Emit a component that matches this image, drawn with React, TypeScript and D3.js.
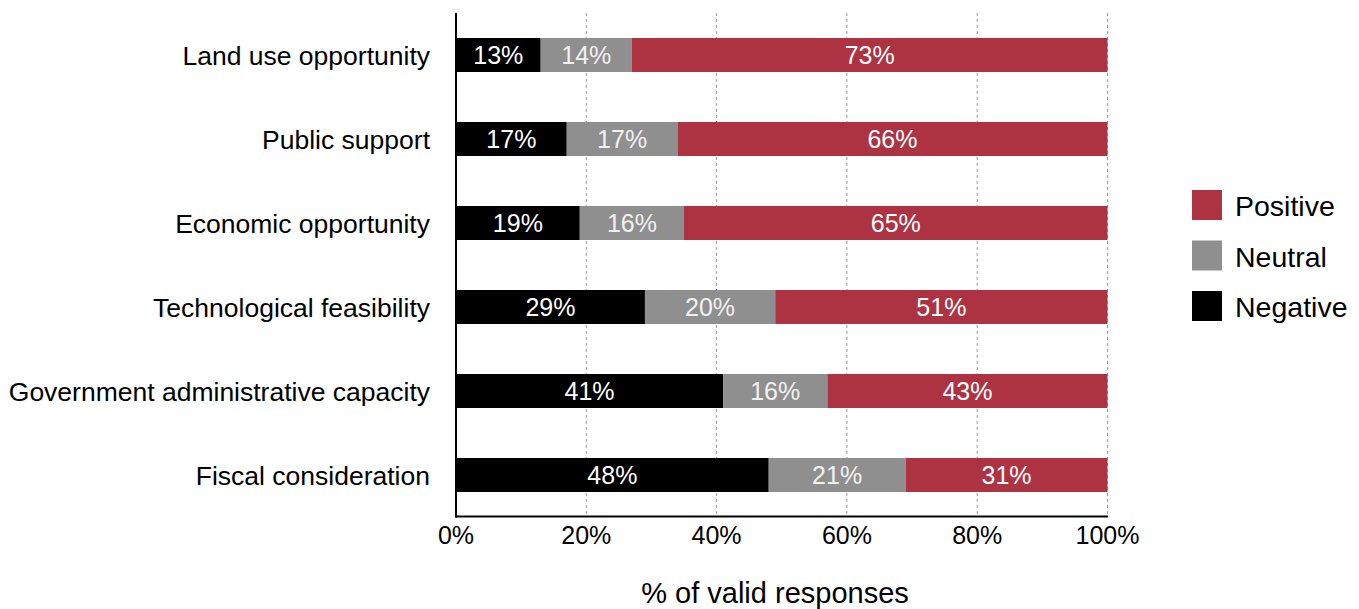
import React from "react";
import * as d3 from "d3";

// Share of valid responses per factor (percent)
const categories = [
  "Land use opportunity",
  "Public support",
  "Economic opportunity",
  "Technological feasibility",
  "Government administrative capacity",
  "Fiscal consideration",
];
const negative = [13, 17, 19, 29, 41, 48];
const neutral = [14, 17, 16, 20, 16, 21];
const positive = [73, 66, 65, 51, 43, 31];

const seriesKeys = ["negative", "neutral", "positive"] as const;
const seriesColors: Record<string, string> = {
  negative: "#000000",
  neutral: "#8f8f8f",
  positive: "#ad3343",
};
const legendItems = [
  { key: "positive", label: "Positive" },
  { key: "neutral", label: "Neutral" },
  { key: "negative", label: "Negative" },
];
const xTicks = [0, 20, 40, 60, 80, 100];

const W = 1359;
const H = 609;
const FONT = "Liberation Sans, Arial, Helvetica, sans-serif";

export default function App() {
  const rows = categories.map((c, i) => ({
    category: c,
    negative: negative[i],
    neutral: neutral[i],
    positive: positive[i],
  }));

  const x = d3.scaleLinear().domain([0, 100]).range([456, 1107.5]);
  const y = d3
    .scaleBand<string>()
    .domain(categories)
    .range([13, 517])
    .paddingInner(50 / 84)
    .paddingOuter(25 / 84);

  const stack = d3.stack<any>().keys(seriesKeys as unknown as string[]);
  const layers = stack(rows);
  const bw = y.bandwidth();
  const plotTop = 13;
  const plotBottom = 516.5;

  return (
    <svg
      width={W}
      height={H}
      viewBox={`0 0 ${W} ${H}`}
      style={{ position: "absolute", left: 0, top: 0, background: "#fff" }}
      fontFamily={FONT}
    >
      {/* vertical grid lines */}
      {xTicks
        .filter((t) => t > 0)
        .map((t) => (
          <line
            key={`g${t}`}
            x1={x(t)}
            x2={x(t)}
            y1={plotTop}
            y2={plotBottom}
            stroke="#9a9a9a"
            strokeWidth={1}
            strokeDasharray="3,3"
          />
        ))}

      {/* stacked bars */}
      {layers.map((layer) => (
        <g key={layer.key} fill={seriesColors[layer.key]}>
          {layer.map((d, i) => (
            <rect
              key={i}
              x={x(d[0])}
              y={y(categories[i])!}
              width={x(d[1]) - x(d[0])}
              height={bw}
            />
          ))}
        </g>
      ))}

      {/* segment value labels */}
      {layers.map((layer) =>
        layer.map((d, i) => (
          <text
            key={`${layer.key}-${i}`}
            x={(x(d[0]) + x(d[1])) / 2}
            y={y(categories[i])! + bw / 2}
            dy="0.36em"
            textAnchor="middle"
            fontSize={25}
            fill={layer.key === "neutral" ? "#f2f2f2" : "#ffffff"}
          >
            {`${d[1] - d[0]}%`}
          </text>
        ))
      )}

      {/* axes */}
      <line x1={456} x2={456} y1={plotTop} y2={plotBottom + 1} stroke="#000" strokeWidth={2} />
      <line x1={455} x2={1108} y1={plotBottom} y2={plotBottom} stroke="#000" strokeWidth={2} />

      {/* category labels */}
      {categories.map((c) => (
        <text
          key={c}
          x={430}
          y={y(c)! + bw / 2}
          dy="0.36em"
          textAnchor="end"
          fontSize={26.5}
          fill="#000"
        >
          {c}
        </text>
      ))}

      {/* x tick labels */}
      {xTicks.map((t) => (
        <text
          key={`t${t}`}
          x={x(t)}
          y={535}
          dy="0.36em"
          textAnchor="middle"
          fontSize={25}
          fill="#000"
        >
          {`${t}%`}
        </text>
      ))}

      {/* x axis title */}
      <text x={775} y={593} dy="0.36em" textAnchor="middle" fontSize={29} fill="#000">
        % of valid responses
      </text>

      {/* legend */}
      {legendItems.map((item, i) => (
        <g key={item.key} transform={`translate(1192, ${190 + i * 50.5})`}>
          <rect width={30} height={30} fill={seriesColors[item.key]} />
          <text x={43} y={16} dy="0.36em" fontSize={28.5} fill="#000">
            {item.label}
          </text>
        </g>
      ))}
    </svg>
  );
}
